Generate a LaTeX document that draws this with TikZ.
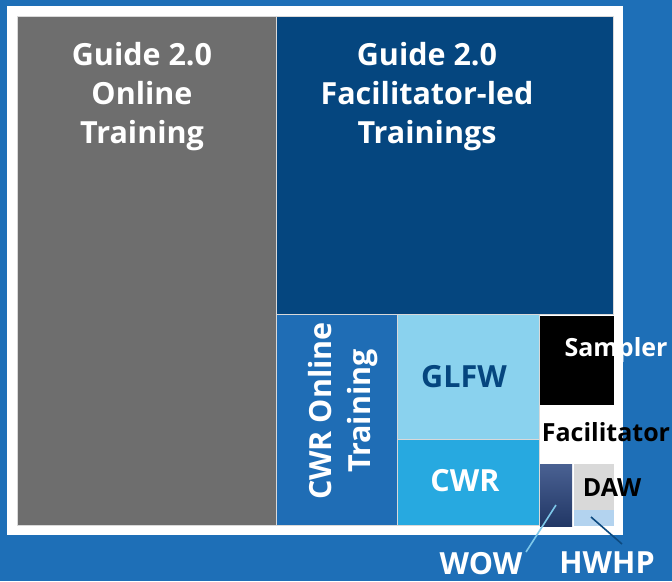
\documentclass[tikz,border=0pt]{standalone}
\usepackage{fontspec}
\setmainfont{Open Sans}
\definecolor{bgblue}{HTML}{1E6FB7}
\definecolor{navy}{HTML}{05467F}
\definecolor{greycell}{HTML}{6E6E6E}
\definecolor{cwronline}{HTML}{1F6DB5}
\definecolor{glfw}{HTML}{8AD2EE}
\definecolor{cwr}{HTML}{27A9E0}
\definecolor{wow}{HTML}{2A457F}
\definecolor{daw}{HTML}{D9D9D9}
\definecolor{hwhp}{HTML}{B3D3EF}
\definecolor{wowline}{HTML}{7EC8EA}
\definecolor{hwhpline}{HTML}{0D4A80}
\begin{document}
\begin{tikzpicture}[x=1pt,y=-1pt,
  cell/.style={draw=white!70!gray, line width=0.6pt},
  bigtxt/.style={font=\bfseries\fontsize{30.5}{39}\selectfont, align=center, inner sep=0pt},
  smalltxt/.style={font=\bfseries\fontsize{25}{30}\selectfont, inner sep=0pt},
  leader/.style={line width=1.6pt}]
\fill[bgblue] (0,0) rectangle (672,581);
\useasboundingbox (0,0) rectangle (672,581);
\fill[white] (7,6) rectangle (623,535);
% cells
\fill[greycell,cell] (17,16) rectangle (276,525);
\fill[navy,cell] (276,16) rectangle (613,314);
\fill[cwronline,cell] (276,314) rectangle (397,525);
\fill[glfw,cell] (397,314) rectangle (539,439);
\fill[cwr,cell] (397,439) rectangle (539,525);
\fill[black] (540,316) rectangle (614,405);
\fill[white] (540,405) rectangle (614,464);
\shade[top color=wow!85!white, bottom color=wow!80!black] (540,464) rectangle (572,526);
\fill[daw] (574,464) rectangle (614,510);
\fill[hwhp] (574,510) rectangle (614,526);
% labels
\node[bigtxt, text=white] (t1) at (142,97) {Guide 2.0\\Online\\Training};
\node[bigtxt, text=white] (t2) at (427,97) {Guide 2.0\\Facilitator-led\\Trainings};
\node[bigtxt, text=white, rotate=90] (t3) at (343,411) {CWR Online\\Training};
\node[bigtxt, text=navy] (t4) at (464,377) {GLFW};
\node[bigtxt, text=white] (t5) at (465,481) {CWR};
\node[smalltxt, text=white] (t6) at (616,350) {Sampler};
\node[smalltxt, text=black] (t7) at (606,432) {Facilitator};
\node[smalltxt, text=black] (t8) at (612,488) {DAW};
\node[bigtxt, text=white] (wowl) at (481,564) {WOW};
\node[bigtxt, text=white] (hwhpl) at (607,563) {HWHP};
\coordinate (wowtip) at (556,505);
\coordinate (wowend) at (526,552);
\coordinate (hwtip) at (591,517);
\coordinate (hwend) at (622,544);
\draw[leader, wowline] (wowtip) -- (wowend);
\draw[leader, hwhpline] (hwtip) -- (hwend);
\end{tikzpicture}
\end{document}
